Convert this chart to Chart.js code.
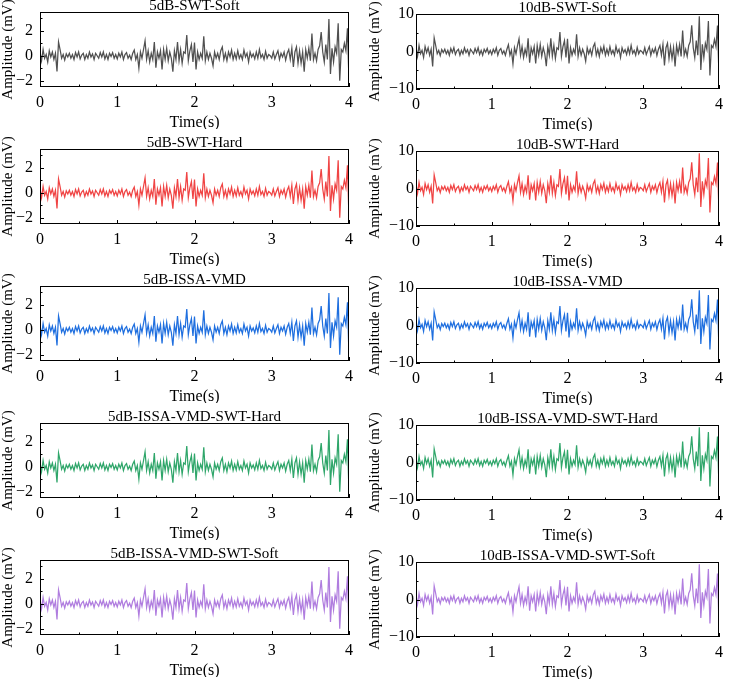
<!DOCTYPE html>
<html>
<head>
<meta charset="utf-8">
<script src="https://cdn.jsdelivr.net/npm/chart.js@4.4.1/dist/chart.umd.min.js"></script>
<style>
    html, body { margin: 0; padding: 0; background: #fff; }
    #wrap { position: relative; width: 729px; height: 680px; overflow: hidden; }
    #wrap canvas { position: absolute; }
</style>
</head>
<body>
<div id="wrap"></div>
<script>
// Intervalo de muestreo de las señales (s).
const SAMPLE_STEP = 0.02;

// Señal a 5 dB (mV), una muestra cada 0.02 s, de 0 a 4 s.
const SIGNAL_5DB = [
    0.3, -0.4, 0.5, -0.2, 0.1, -0.5, 0.4, -0.1, 0.3, -0.3,
    0.2, -1.25, 1.1, 0.5, -0.2, 0.1, -0.35, 0.15, -0.1, 0.2,
    -0.2, 0.1, -0.3, 0.25, -0.1, 0.3, -0.25, 0.05, 0.2, -0.3,
    0.1, -0.2, 0.3, -0.1, 0.15, -0.3, 0.2, 0.0, -0.2, 0.25,
    -0.1, 0.3, -0.25, 0.1, -0.3, 0.2, -0.05, 0.25, -0.2, 0.1,
    -0.25, 0.2, -0.1, 0.3, -0.3, 0.1, 0.25, -0.2, 0.05, -0.3,
    0.2, 0.45, -0.3, 0.1, -1.0, 0.3, -0.2, 0.5, 1.2, -0.3,
    0.4, -0.5, 0.2, -0.3, 1.1, -0.95, 0.3, -0.2, 0.4, -1.1,
    0.5, -0.3, 0.6, -0.4, 0.3, -0.2, -1.27, 0.4, -0.3, 1.1,
    -0.4, 0.5, -0.6, 0.3, 0.2, 1.65, -0.4, 0.4, 0.9, -0.5,
    1.05, -1.1, 0.3, -0.3, 0.2, -0.2, 1.56, -0.4, 0.3, -0.3,
    0.2, -0.2, -0.8, 0.3, -0.2, 0.2, -0.3, 0.4, 0.7, -0.3,
    0.2, -0.4, 0.3, -0.1, 0.45, -0.3, 0.2, -0.25, 0.4, -0.2,
    0.1, -0.3, 0.45, -0.1, 0.2, -0.5, 0.3, -0.1, 0.15, -0.25,
    0.3, -0.2, 0.5, -0.15, 0.1, -0.3, 0.35, -0.2, 0.1, 0.0,
    -0.2, 0.3, -0.25, 0.1, 0.4, -0.3, 0.2, -0.1, 0.3, -0.35,
    0.2, 0.5, -0.3, 0.6, -0.9, 0.3, 0.7, -0.6, 0.4, -0.6,
    0.3, -1.27, 0.5, -0.2, 0.6, -0.4, 1.78, -0.3, 0.2, -0.4,
    0.5, 0.8, 1.9, 0.3, -0.5, 0.9, -0.3, 2.94, -1.46, 0.6,
    -0.5, 0.7, 0.2, 2.6, -2.0, 0.5, 0.3, 1.0, 0.4, 2.2,
    -2.13
];

// Señal a 10 dB (mV), mismo muestreo.
const SIGNAL_10DB = [
    1.0, -1.3, 1.6, -0.6, 0.3, -1.6, 1.3, -0.3, 1.0, -1.0,
    0.6, -4.0, 3.6, 1.6, -0.6, 0.3, -1.1, 0.5, -0.3, 0.6,
    -0.6, 0.3, -1.0, 0.8, -0.3, 1.0, -0.8, 0.2, 0.6, -1.0,
    0.3, -0.6, 1.0, -0.3, 0.5, -1.0, 0.6, 0.0, -0.6, 0.8,
    -0.3, 1.0, -0.8, 0.3, -1.0, 0.6, -0.2, 0.8, -0.6, 0.3,
    -0.8, 0.6, -0.3, 1.0, -1.0, 0.3, 0.8, -0.6, 0.2, -1.0,
    0.6, 1.8, -1.0, 0.3, -3.3, 1.0, -0.6, 1.6, 3.4, -1.0,
    1.3, -1.6, 0.6, -1.0, 3.5, -3.0, 1.0, -0.6, 1.3, -3.2,
    1.6, -1.0, 1.9, -1.3, 1.0, -0.6, -3.9, 1.3, -1.0, 3.5,
    -1.3, 1.6, -1.9, 1.0, 0.6, 5.2, -1.3, 1.3, 2.9, -1.6,
    3.4, -3.2, 1.0, -1.0, 0.6, -0.6, 4.6, -1.3, 1.0, -1.0,
    0.6, -0.6, -2.6, 1.0, -0.6, 0.6, -1.0, 1.3, 2.2, -1.0,
    0.6, -1.3, 1.0, -0.3, 1.4, -1.0, 0.6, -0.8, 1.3, -0.6,
    0.3, -1.0, 1.4, -0.3, 0.6, -1.6, 1.0, -0.3, 0.5, -0.8,
    1.0, -0.6, 1.6, -0.5, 0.3, -1.0, 1.1, -0.6, 0.3, 0.0,
    -0.6, 1.0, -0.8, 0.3, 1.3, -1.0, 0.6, -0.3, 1.0, -1.1,
    0.6, 1.6, -1.0, 1.9, -3.7, 1.0, 2.2, -1.9, 1.3, -1.9,
    1.0, -4.0, 1.6, -0.6, 1.9, -1.3, 5.6, -1.0, 0.6, -1.3,
    1.6, 2.6, 7.0, 1.0, -1.6, 2.9, -1.0, 9.4, -4.9, 1.9,
    -1.6, 2.2, 0.6, 8.1, -6.4, 1.6, 1.0, 3.2, 1.3, 6.9,
    -6.8
];

// Títulos de cada fila.
const TITLES_5DB = ['5dB-SWT-Soft', '5dB-SWT-Hard', '5dB-ISSA-VMD', '5dB-ISSA-VMD-SWT-Hard', '5dB-ISSA-VMD-SWT-Soft'];
const TITLES_10DB = ['10dB-SWT-Soft', '10dB-SWT-Hard', '10dB-ISSA-VMD', '10dB-ISSA-VMD-SWT-Hard', '10dB-ISSA-VMD-SWT-Soft'];
const ROW_COLORS = ['#505050', '#f04444', '#1f6fdf', '#2fa66a', '#b07ddf'];

// Marcas de los ejes.
const X_TICKS = [0, 1, 2, 3, 4];
const X_MINOR = [0.5, 1.5, 2.5, 3.5];
const Y_TICKS_5DB = [-2, 0, 2];
const Y_MINOR_5DB = [-1, 1, 3];
const Y_TICKS_10DB = [-10, 0, 10];
const Y_MINOR_10DB = [-5, 5];

const FONT = '"Liberation Serif", "Times New Roman", serif';

// Plugin para el marco, las marcas interiores y los textos del panel.
const panelPlugin = {
    id: 'panel',
    afterDraw(chart, args, opts) {
        const { ctx, chartArea: a, scales } = chart;
        ctx.save();
        ctx.strokeStyle = '#000';
        ctx.lineWidth = 1;
        ctx.strokeRect(a.left + 0.5, a.top + 0.5, a.right - a.left - 1, a.bottom - a.top - 1);
        const line = (x1, y1, x2, y2) => {
            ctx.beginPath();
            ctx.moveTo(x1, y1);
            ctx.lineTo(x2, y2);
            ctx.stroke();
        };
        X_TICKS.forEach(v => {
            const x = Math.round(scales.x.getPixelForValue(v)) + 0.5;
            line(x, a.bottom, x, a.bottom - 4);
        });
        X_MINOR.forEach(v => {
            const x = Math.round(scales.x.getPixelForValue(v)) + 0.5;
            line(x, a.bottom, x, a.bottom - 2.5);
        });
        opts.yMajor.forEach(v => {
            const y = Math.round(scales.y.getPixelForValue(v)) + 0.5;
            line(a.left, y, a.left + 4, y);
        });
        opts.yMinor.forEach(v => {
            const y = Math.round(scales.y.getPixelForValue(v)) + 0.5;
            line(a.left, y, a.left + 2.5, y);
        });
        ctx.fillStyle = '#000';
        ctx.textAlign = 'center';
        ctx.textBaseline = 'alphabetic';
        ctx.font = '15px ' + FONT;
        ctx.fillText(opts.title, (a.left + a.right) / 2, a.top - 2.5);
        ctx.font = '16px ' + FONT;
        ctx.fillText('Time(s)', (a.left + a.right) / 2, a.bottom + 40);
        ctx.translate(opts.yTitleX, (a.top + a.bottom) / 2);
        ctx.rotate(-Math.PI / 2);
        ctx.font = '15px ' + FONT;
        ctx.fillText('Amplitude (mV)', 0, 0);
        ctx.restore();
    }
};

const formatTick = v => (v < 0 ? '\u2212' + Math.abs(v) : String(v));

// Función para crear un panel.
const crearPanel = (row, col) => {
    const is5 = col === 0;
    const signal = is5 ? SIGNAL_5DB : SIGNAL_10DB;
    const canvas = document.createElement('canvas');
    canvas.width = 364;
    canvas.height = 137;
    canvas.style.left = (col * 365) + 'px';
    canvas.style.top = (row * 137 - 8 + (is5 ? 0 : 2)) + 'px';
    document.getElementById('wrap').appendChild(canvas);

    new Chart(canvas.getContext('2d'), {
        type: 'line',
        data: {
            datasets: [{
                data: signal.map((v, i) => ({ x: i * SAMPLE_STEP, y: v })),
                borderColor: ROW_COLORS[row],
                borderWidth: 1.25,
                pointRadius: 0,
                tension: 0
            }]
        },
        options: {
            responsive: false,
            animation: false,
            events: [],
            layout: { padding: { left: 0, right: is5 ? 15 : 4, top: 20, bottom: 0 } },
            plugins: {
                legend: { display: false },
                tooltip: { enabled: false },
                panel: {
                    title: is5 ? TITLES_5DB[row] : TITLES_10DB[row],
                    yMajor: is5 ? Y_TICKS_5DB : Y_TICKS_10DB,
                    yMinor: is5 ? Y_MINOR_5DB : Y_MINOR_10DB,
                    yTitleX: is5 ? 12 : 14
                }
            },
            scales: {
                x: {
                    type: 'linear',
                    min: 0,
                    max: 4,
                    afterBuildTicks: s => { s.ticks = X_TICKS.map(v => ({ value: v })); },
                    afterFit: s => { s.height = 42; },
                    grid: { display: false, drawTicks: false },
                    border: { display: false },
                    ticks: { color: '#000', font: { family: FONT, size: 16 }, padding: 6, maxRotation: 0, autoSkip: false }
                },
                y: {
                    type: 'linear',
                    min: is5 ? -2.5 : -10,
                    max: is5 ? 3.5 : 10,
                    afterBuildTicks: s => { s.ticks = (is5 ? Y_TICKS_5DB : Y_TICKS_10DB).map(v => ({ value: v })); },
                    afterFit: s => { s.width = is5 ? 40 : 51; },
                    grid: { display: false, drawTicks: false },
                    border: { display: false },
                    ticks: { color: '#000', font: { family: FONT, size: 16 }, padding: is5 ? 7 : 2, callback: formatTick }
                }
            }
        },
        plugins: [panelPlugin]
    });
};

document.addEventListener('DOMContentLoaded', () => {
    for (let row = 0; row < 5; row++) {
        crearPanel(row, 0);
        crearPanel(row, 1);
    }
});
</script>
</body>
</html>
